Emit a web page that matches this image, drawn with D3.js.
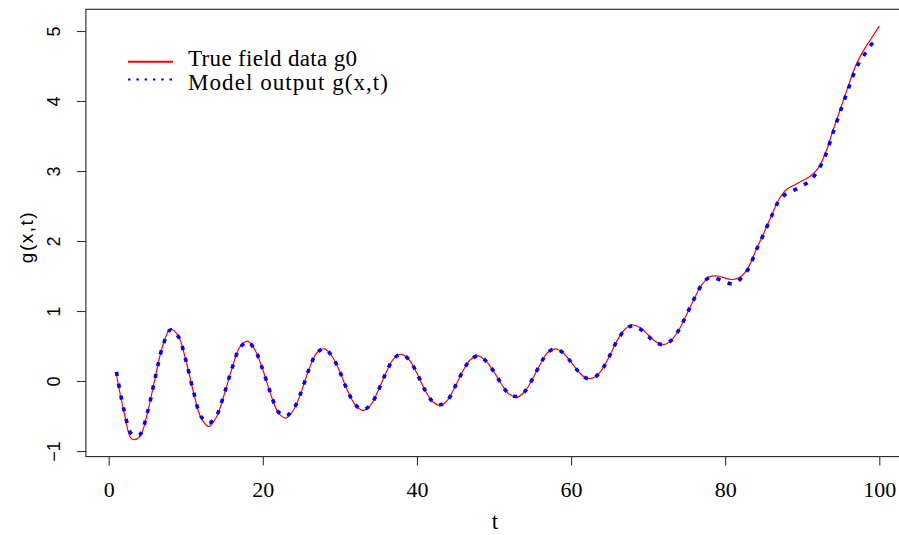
<!DOCTYPE html>
<html>
<head>
<meta charset="utf-8">
<script src="https://cdn.jsdelivr.net/npm/d3@7"></script>
<style>
  html, body { margin: 0; padding: 0; background: #fff; }
  svg { display: block; }
</style>
</head>
<body>
<svg id="chart" width="899" height="535"></svg>
<script>
// ---- data ----
const tValues = d3.range(1, 101);
const trueField = [
  0.10, -0.45, -0.83, -0.80, -0.47, 0.03, 0.50, 0.74, 0.65, 0.30,
  -0.16, -0.53, -0.65, -0.51, -0.19, 0.18, 0.48, 0.57, 0.44, 0.16,
  -0.18, -0.45, -0.53, -0.41, -0.15, 0.17, 0.40, 0.46, 0.35, 0.13,
  -0.14, -0.34, -0.42, -0.34, -0.13, 0.12, 0.32, 0.38, 0.30, 0.11,
  -0.12, -0.29, -0.35, -0.27, -0.07, 0.15, 0.31, 0.36, 0.28, 0.13,
  -0.05, -0.19, -0.23, -0.15, 0.03, 0.24, 0.41, 0.46, 0.40, 0.27,
  0.13, 0.04, 0.05, 0.16, 0.36, 0.58, 0.74, 0.80, 0.76, 0.66,
  0.56, 0.52, 0.58, 0.73, 0.95, 1.18, 1.38, 1.49, 1.50, 1.47,
  1.45, 1.49, 1.62, 1.87, 2.11, 2.36, 2.60, 2.74, 2.80, 2.86,
  2.92, 3.03, 3.25, 3.58, 3.90, 4.22, 4.52, 4.73, 4.90, 5.07
];
const modelOutput = [
  0.13, -0.42, -0.76, -0.77, -0.46, 0.03, 0.49, 0.73, 0.64, 0.30,
  -0.15, -0.51, -0.60, -0.49, -0.18, 0.18, 0.47, 0.56, 0.44, 0.16,
  -0.17, -0.44, -0.50, -0.40, -0.15, 0.17, 0.40, 0.46, 0.35, 0.13,
  -0.14, -0.34, -0.41, -0.34, -0.13, 0.12, 0.32, 0.38, 0.30, 0.11,
  -0.12, -0.29, -0.34, -0.27, -0.07, 0.15, 0.31, 0.36, 0.28, 0.13,
  -0.05, -0.19, -0.22, -0.15, 0.03, 0.24, 0.41, 0.46, 0.40, 0.27,
  0.13, 0.04, 0.05, 0.16, 0.36, 0.58, 0.73, 0.79, 0.74, 0.64,
  0.55, 0.52, 0.58, 0.73, 0.95, 1.18, 1.38, 1.48, 1.46, 1.41,
  1.39, 1.46, 1.60, 1.86, 2.10, 2.35, 2.58, 2.68, 2.73, 2.79,
  2.86, 3.00, 3.22, 3.55, 3.87, 4.18, 4.47, 4.65, 4.81, 4.88
];
const xTicks = [0, 20, 40, 60, 80, 100];
const yTicks = [-1, 0, 1, 2, 3, 4, 5];
const legendLabels = ["True field data g0", "Model output g(x,t)"];
const xLabel = "t";
const yLabel = "g(x,t)";

// ---- scales ----
const svg = d3.select("#chart");
const x = d3.scaleLinear().domain([0, 100]).range([108.7, 879.3]);
const y = d3.scaleLinear().domain([-1, 5]).range([451, 31]);
const xBox = [-2.96, 103.96];
const yBox = [-1.08, 5.31];

const serif = "Liberation Serif, Times New Roman, serif";
const sans = "Liberation Sans, Arial, sans-serif";

// ---- box ----
svg.append("rect")
  .attr("x", x(xBox[0])).attr("y", y(yBox[1]))
  .attr("width", x(xBox[1]) - x(xBox[0]))
  .attr("height", y(yBox[0]) - y(yBox[1]))
  .attr("fill", "none").attr("stroke", "#222").attr("stroke-width", 1.1);

// ---- axes ----
const xAxis = svg.append("g")
  .attr("transform", `translate(0,${y(yBox[0])})`)
  .call(d3.axisBottom(x).tickValues(xTicks).tickSize(9).tickSizeOuter(0).tickFormat(d3.format("d")));
xAxis.attr("font-family", serif).attr("font-size", 22);
xAxis.select(".domain").remove();
xAxis.selectAll(".tick line").attr("stroke", "#333").attr("stroke-width", 1.1);
xAxis.selectAll(".tick text")
  .attr("y", 40).attr("dy", null)
  .attr("font-family", serif).attr("font-size", 22)
  .style("font-family", serif).style("font-size", "22px").attr("fill", "#000");

const yAxis = svg.append("g")
  .attr("transform", `translate(${x(xBox[0])},0)`)
  .call(d3.axisLeft(y).tickValues(yTicks).tickSize(9).tickSizeOuter(0).tickFormat(d3.format("d")));
yAxis.attr("font-family", sans).attr("font-size", 18);
yAxis.select(".domain").remove();
yAxis.selectAll(".tick line").attr("stroke", "#333").attr("stroke-width", 1.1);
yAxis.selectAll(".tick text")
  .attr("x", 0).attr("dy", null)
  .attr("transform", "translate(-26,0) rotate(-90)")
  .attr("text-anchor", "middle")
  .attr("y", 0)
  .style("font-family", sans).style("font-size", "18px").attr("fill", "#000");

// axis titles
svg.append("text")
  .attr("x", (x(xBox[0]) + x(xBox[1])) / 2 - 3).attr("y", 529)
  .attr("text-anchor", "middle")
  .style("font-family", serif).style("font-size", "23px")
  .text(xLabel);
svg.append("text")
  .attr("transform", `translate(33,237) rotate(-90)`)
  .attr("text-anchor", "middle")
  .style("font-family", sans).style("font-size", "19px").style("letter-spacing", "1.5px")
  .text(yLabel);

// ---- lines ----
const line = (vals) => d3.line()
  .curve(d3.curveCatmullRom.alpha(0.5))
  .x((d, i) => x(tValues[i]))
  .y(d => y(d))(vals);

svg.append("path")
  .attr("d", line(trueField))
  .attr("fill", "none").attr("stroke", "#ff0000").attr("stroke-width", 1.2);

svg.append("path")
  .attr("d", line(modelOutput))
  .attr("fill", "none").attr("stroke", "#0000ff").attr("stroke-width", 3.6)
  .attr("stroke-dasharray", "4.2 7.8");

// ---- legend ----
const leg = svg.append("g");
const legY = [61.7, 79.5];
const legTextY = [65.5, 90];
const legTextW = [169, 200];
leg.append("line")
  .attr("x1", 128).attr("x2", 173).attr("y1", legY[0]).attr("y2", legY[0])
  .attr("stroke", "#ff0000").attr("stroke-width", 2);
leg.append("line")
  .attr("x1", 128).attr("x2", 173).attr("y1", legY[1]).attr("y2", legY[1])
  .attr("stroke", "#0000ff").attr("stroke-width", 2).attr("stroke-dasharray", "2.5 5.8");
legendLabels.forEach((lab, i) => {
  leg.append("text")
    .attr("x", 188).attr("y", legTextY[i])
    .attr("textLength", legTextW[i]).attr("lengthAdjust", "spacing")
    .style("font-family", serif).style("font-size", "23px")
    .text(lab);
});
</script>
</body>
</html>
